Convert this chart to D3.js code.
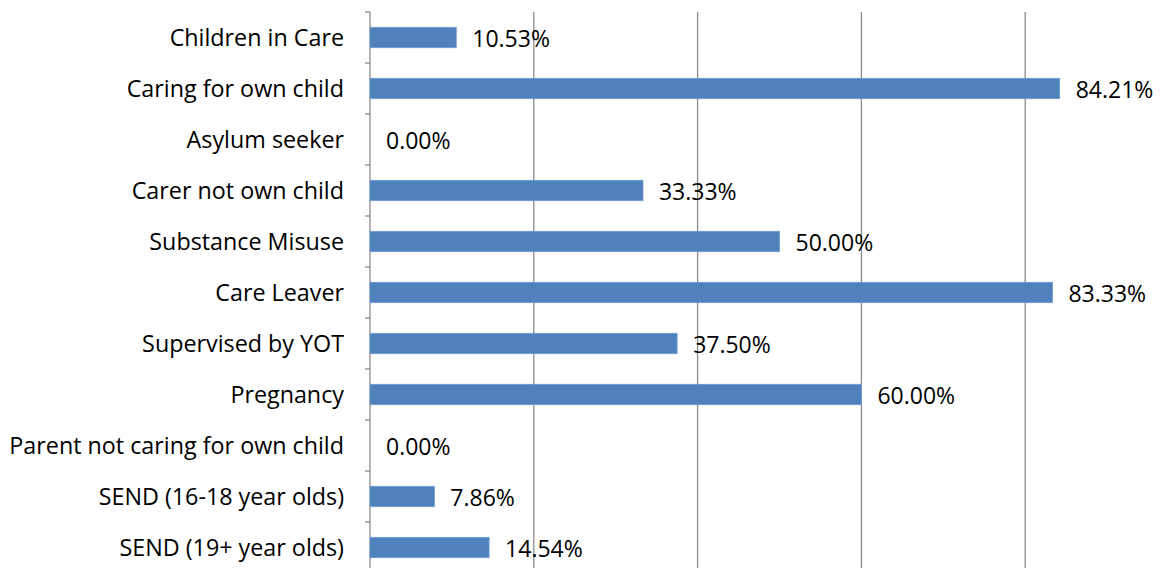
<!DOCTYPE html>
<meta charset="utf-8">
<style>
body { margin: 0; background: #fff; }
.label { font: 23.3px "Open Sans", sans-serif; fill: #000; }
.value { font: 23px "Open Sans", sans-serif; fill: #000; }
.grid line { stroke: #8c8c8c; stroke-width: 1.3px; }
</style>
<svg width="1164" height="568"></svg>
<script src="https://d3js.org/d3.v7.min.js"></script>
<script>

var categories = ["Children in Care", "Caring for own child", "Asylum seeker", "Carer not own child",
  "Substance Misuse", "Care Leaver", "Supervised by YOT", "Pregnancy",
  "Parent not caring for own child", "SEND (16-18 year olds)", "SEND (19+ year olds)"];
var values = [10.53, 84.21, 0.00, 33.33, 50.00, 83.33, 37.50, 60.00, 0.00, 7.86, 14.54];
var gridTicks = [0, 20, 40, 60, 80, 100];

var svg = d3.select("svg");

var x = d3.scaleLinear().domain([0, 100]).range([370, 1189]);
var y = d3.scaleBand().domain(categories).range([12, 573]).paddingInner(0.6).paddingOuter(0.3);

// vertical gridlines
svg.append("g").attr("class", "grid")
  .selectAll("line")
  .data(gridTicks.slice(1))
  .enter().append("line")
    .attr("x1", function(d) { return x(d); })
    .attr("x2", function(d) { return x(d); })
    .attr("y1", 12)
    .attr("y2", 573);

// category axis with outside ticks at band edges
var step = y.step();
var edges = d3.range(categories.length + 1).map(function(i) { return 12 + i * step; });
var axis = svg.append("g").attr("class", "grid");
axis.append("line").attr("x1", x(0)).attr("x2", x(0)).attr("y1", 12).attr("y2", 573);
axis.selectAll("line.tk")
  .data(edges)
  .enter().append("line")
    .attr("class", "tk")
    .attr("x1", x(0) - 5).attr("x2", x(0))
    .attr("y1", function(d) { return d; })
    .attr("y2", function(d) { return d; });

svg.selectAll("rect.bar")
  .data(values)
  .enter().append("rect")
    .attr("class", "bar")
    .attr("x", x(0))
    .attr("y", function(d, i) { return y(categories[i]); })
    .attr("width", function(d) { return x(d) - x(0); })
    .attr("height", y.bandwidth())
    .attr("fill", "#4f81bd")
    .attr("stroke", "#6f9bd0")
    .attr("stroke-width", 0.8);

svg.selectAll("text.label")
  .data(categories)
  .enter().append("text")
    .attr("class", "label")
    .attr("x", 344)
    .attr("y", function(d) { return y(d) + y.bandwidth() / 2; })
    .attr("dy", "0.35em")
    .attr("text-anchor", "end")
    .text(function(d) { return d; });

svg.selectAll("text.value")
  .data(values)
  .enter().append("text")
    .attr("class", "value")
    .attr("x", function(d) { return x(d) + 16; })
    .attr("y", function(d, i) { return y(categories[i]) + y.bandwidth() / 2; })
    .attr("dy", "0.4em")
    .text(function(d) { return d.toFixed(2) + "%"; });

</script>
